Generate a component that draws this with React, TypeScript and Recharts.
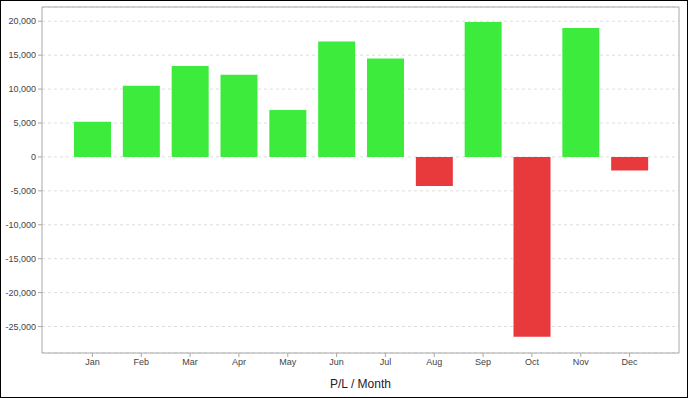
import { BarChart, Bar, XAxis, YAxis, CartesianGrid, Cell, Label } from 'recharts';

const months = ['Jan', 'Feb', 'Mar', 'Apr', 'May', 'Jun', 'Jul', 'Aug', 'Sep', 'Oct', 'Nov', 'Dec'];
const profitLoss = [5200, 10500, 13400, 12100, 6900, 17000, 14500, -4300, 19900, -26500, 19000, -2000];
const yTicks = [-25000, -20000, -15000, -10000, -5000, 0, 5000, 10000, 15000, 20000];

const data = months.map((month, i) => ({ month, pl: profitLoss[i] }));

const axisColor = '#a8a8a8';
const tickStyle = { fontSize: 9, fill: '#444', fontFamily: 'Liberation Sans, Arial, sans-serif' };

export default function App() {
  return (
    <div
      style={{
        position: 'absolute',
        left: 0,
        top: 0,
        width: 688,
        height: 398,
        border: '1px solid #000',
        boxSizing: 'border-box',
        background: '#fff',
      }}
    >
      <BarChart width={686} height={396} data={data} margin={{ top: 5, right: 7, bottom: 0, left: 0 }}>
        <CartesianGrid vertical={false} strokeDasharray="3 3" stroke="#dddddd" />
        <XAxis
          dataKey="month"
          height={44}
          padding={{ left: 26, right: 25 }}
          tick={tickStyle}
          tickSize={4}
          axisLine={{ stroke: axisColor }}
          tickLine={{ stroke: axisColor }}
        >
          <Label
            value="P/L / Month"
            position="insideBottom"
            offset={9}
            style={{ fontSize: 12, fill: '#222', fontFamily: 'Liberation Sans, Arial, sans-serif' }}
          />
        </XAxis>
        <XAxis xAxisId="top" dataKey="month" orientation="top" height={1} tick={false} tickLine={false} axisLine={{ stroke: axisColor }} />
        <YAxis
          width={41}
          domain={[-28900, 22100]}
          ticks={yTicks}
          interval={0}
          tick={tickStyle}
          tickSize={4}
          tickFormatter={(v: number) => v.toLocaleString('en-US')}
          axisLine={{ stroke: axisColor }}
          tickLine={{ stroke: axisColor }}
        />
        <YAxis yAxisId="right" orientation="right" width={1} tick={false} tickLine={false} axisLine={{ stroke: axisColor }} />
        <Bar dataKey="pl" barSize={37} isAnimationActive={false}>
          {data.map((d) => (
            <Cell key={d.month} fill={d.pl >= 0 ? '#3deb3d' : '#e8393d'} />
          ))}
        </Bar>
      </BarChart>
    </div>
  );
}
